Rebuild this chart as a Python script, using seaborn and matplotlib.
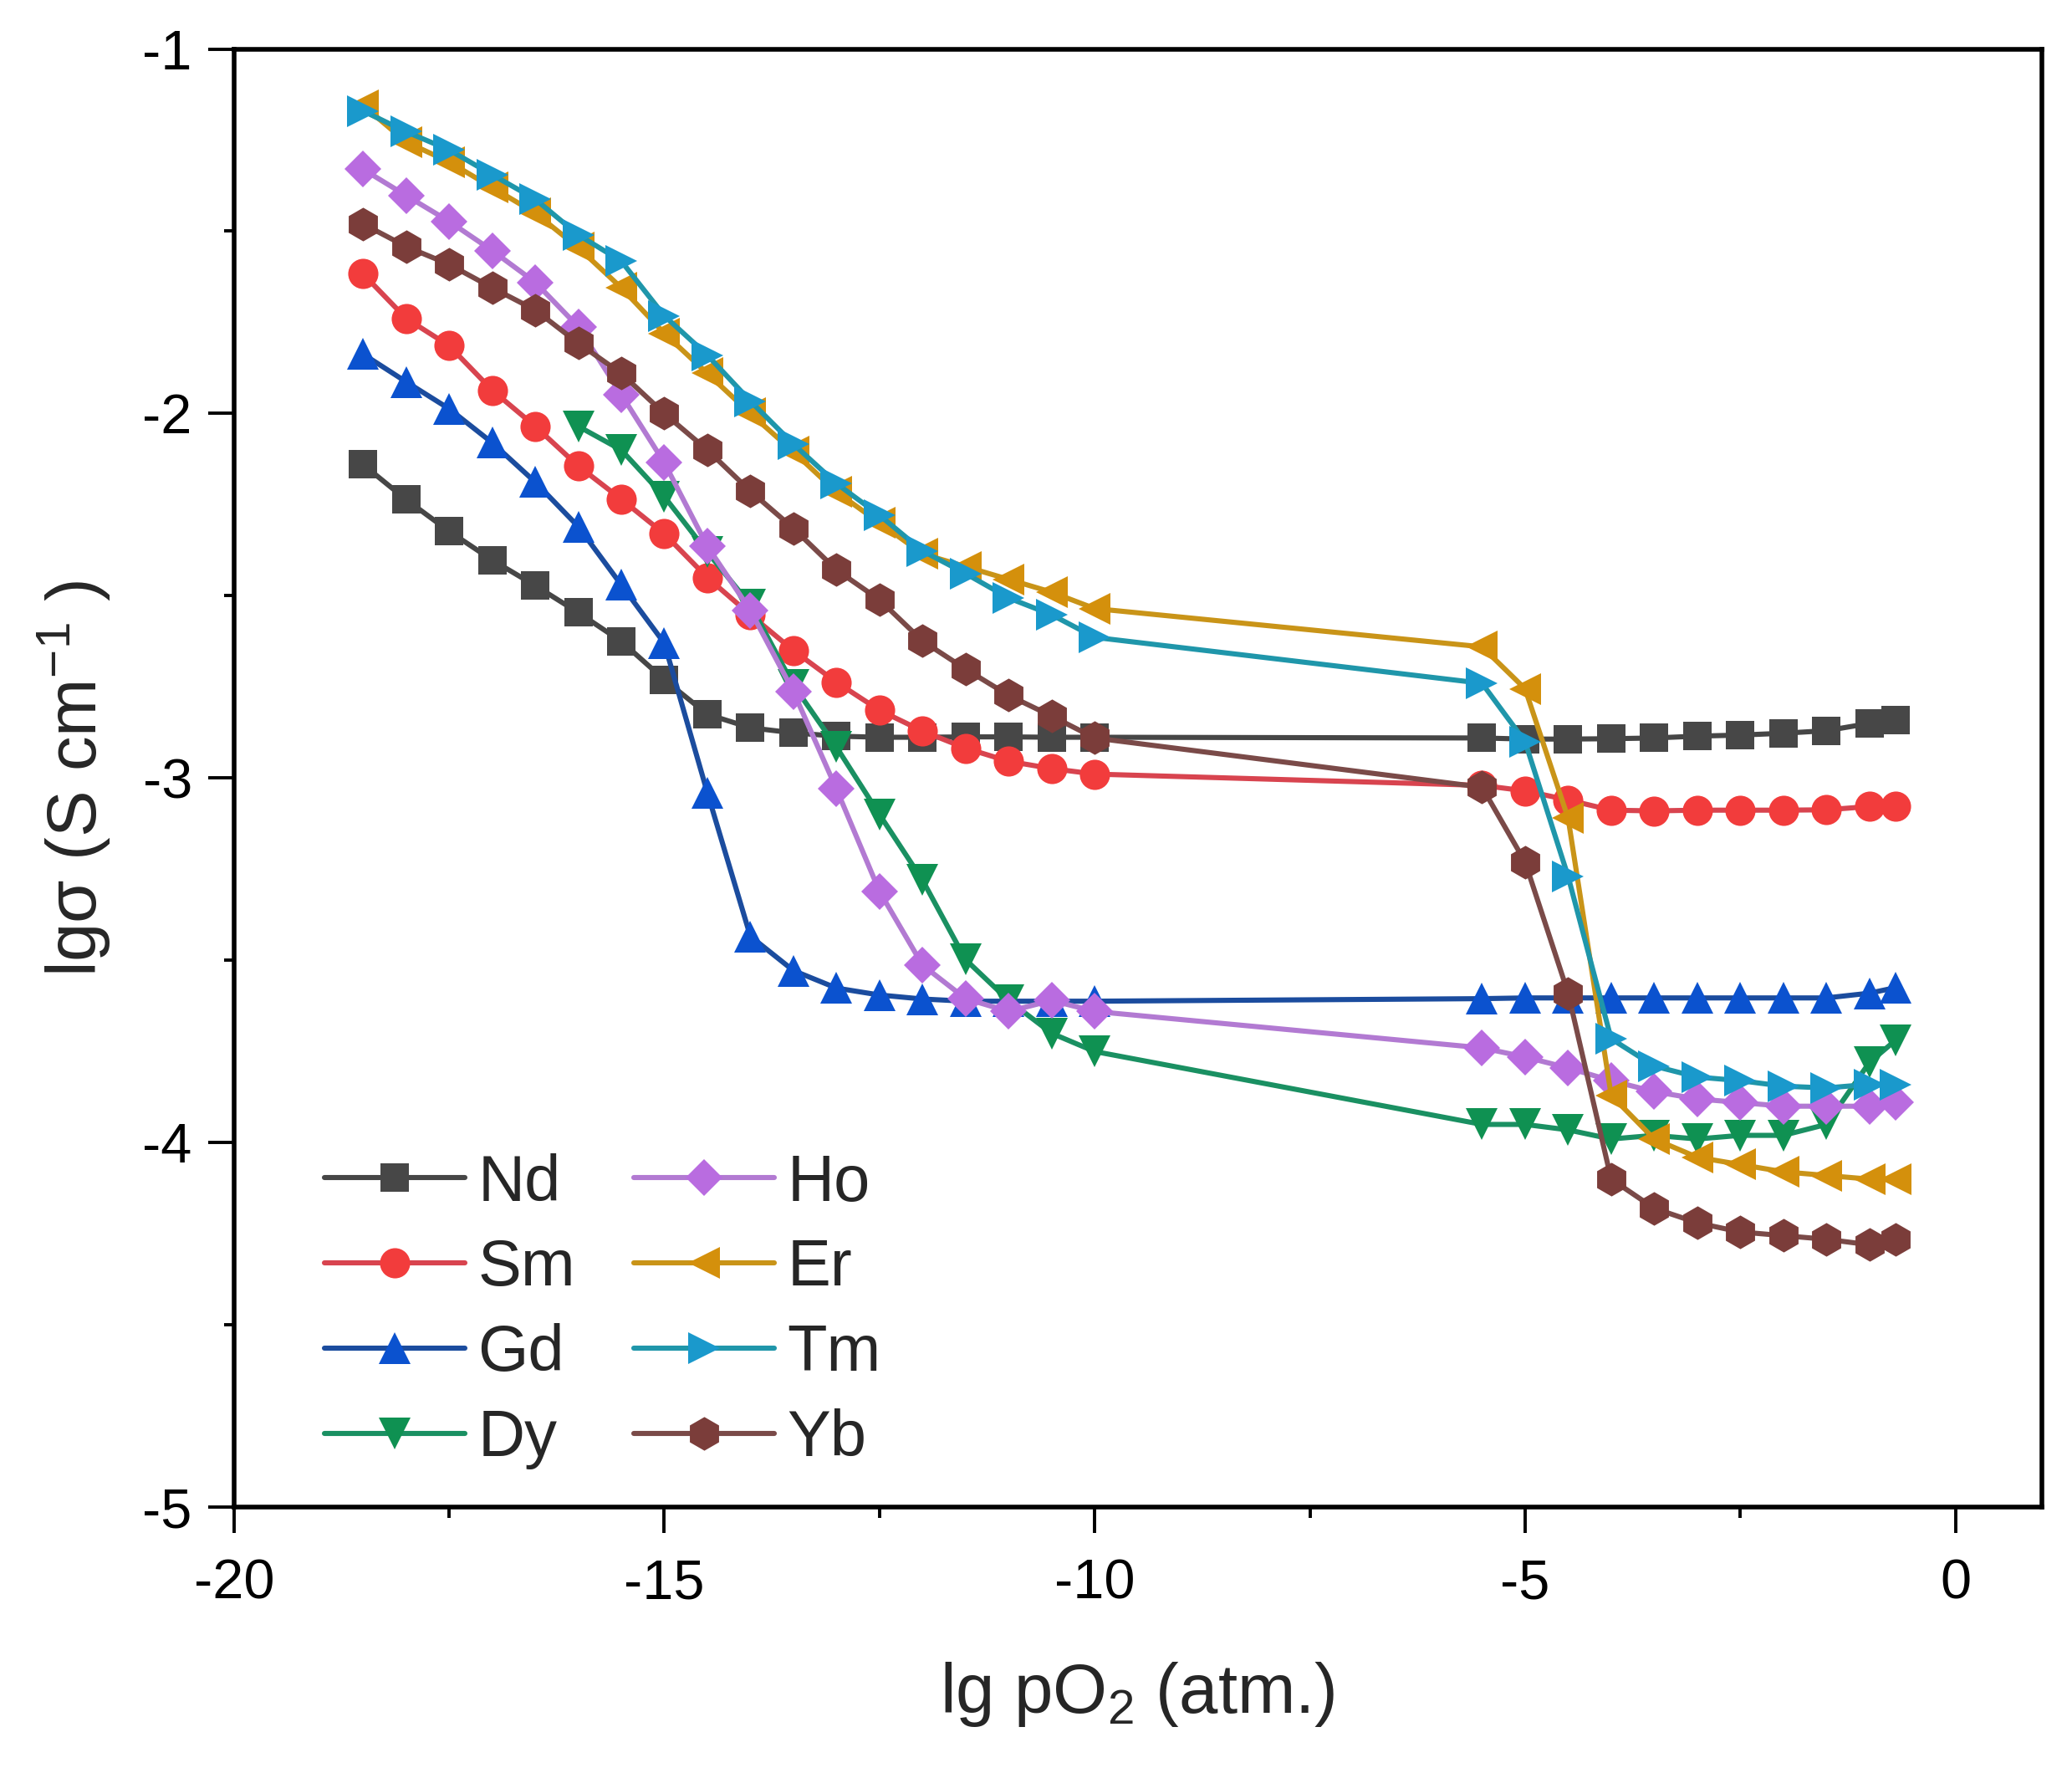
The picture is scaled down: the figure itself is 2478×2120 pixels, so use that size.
import matplotlib
matplotlib.use("Agg")
import matplotlib.pyplot as plt
import pandas as pd
import seaborn as sns
from matplotlib.ticker import MultipleLocator

# ---------------- data ----------------
elements = ["Nd", "Sm", "Gd", "Dy", "Ho", "Er", "Tm", "Yb"]

x_low = [-18.5, -18.0, -17.5, -17.0, -16.5, -16.0, -15.5, -15.0, -14.5,
         -14.0, -13.5, -13.0, -12.5, -12.0, -11.5, -11.0, -10.5, -10.0]
x_low_dy = [-16.0, -15.5, -15.0, -14.5, -14.0, -13.5, -13.0, -12.5, -12.0,
            -11.5, -11.0, -10.5, -10.0]
x_high = [-5.5, -5.0, -4.5, -4.0, -3.5, -3.0, -2.5, -2.0, -1.5, -1.0, -0.7]

nd_low = [-2.14, -2.236, -2.323, -2.402, -2.472, -2.546, -2.625, -2.73, -2.825,
          -2.862, -2.876, -2.885, -2.888, -2.888, -2.887, -2.887, -2.888, -2.888]
nd_high = [-2.89, -2.893, -2.893, -2.892, -2.89, -2.885, -2.882, -2.877, -2.87, -2.85, -2.84]

sm_low = [-1.617, -1.739, -1.814, -1.936, -2.035, -2.144, -2.235, -2.33, -2.45,
          -2.552, -2.65, -2.737, -2.814, -2.871, -2.918, -2.954, -2.974, -2.989]
sm_high = [-3.02, -3.035, -3.06, -3.088, -3.09, -3.088, -3.088, -3.088, -3.087, -3.078, -3.078]

gd_low = [-1.837, -1.913, -1.987, -2.08, -2.188, -2.31, -2.47, -2.63, -3.04,
          -3.434, -3.528, -3.576, -3.595, -3.606, -3.612, -3.612, -3.612, -3.612]
gd_high = [-3.605, -3.603, -3.603, -3.603, -3.603, -3.603, -3.603, -3.603, -3.603, -3.59, -3.575]

dy_low = [-2.035, -2.10, -2.228, -2.38, -2.525, -2.745, -2.915, -3.10, -3.28,
          -3.498, -3.61, -3.70, -3.75]
dy_high = [-3.95, -3.95, -3.965, -3.99, -3.98, -3.99, -3.98, -3.98, -3.95, -3.78, -3.72]

ho_low = [-1.33, -1.402, -1.473, -1.553, -1.64, -1.762, -1.948, -2.135, -2.364,
          -2.54, -2.763, -3.03, -3.311, -3.513, -3.605, -3.64, -3.61, -3.64]
ho_high = [-3.74, -3.765, -3.795, -3.83, -3.86, -3.88, -3.89, -3.90, -3.90, -3.90, -3.89]

er_low = [-1.155, -1.255, -1.31, -1.38, -1.45, -1.545, -1.655, -1.78, -1.89,
          -2.0, -2.105, -2.215, -2.30, -2.385, -2.42, -2.455, -2.49, -2.535]
er_high = [-2.64, -2.755, -3.11, -3.87, -3.99, -4.04, -4.06, -4.08, -4.09, -4.10, -4.10]

tm_low = [-1.17, -1.227, -1.277, -1.345, -1.412, -1.51, -1.582, -1.732, -1.84,
          -1.966, -2.084, -2.192, -2.279, -2.377, -2.439, -2.506, -2.552, -2.614]
tm_high = [-2.74, -2.90, -3.27, -3.715, -3.79, -3.82, -3.83, -3.845, -3.85, -3.84, -3.84]

yb_low = [-1.48, -1.542, -1.591, -1.655, -1.716, -1.807, -1.89, -2.0, -2.10,
          -2.213, -2.315, -2.429, -2.511, -2.624, -2.701, -2.773, -2.83, -2.89]
yb_high = [-3.025, -3.23, -3.59, -4.10, -4.18, -4.22, -4.245, -4.255, -4.265, -4.28, -4.265]

series_x = {
    "Nd": x_low + x_high, "Sm": x_low + x_high, "Gd": x_low + x_high,
    "Dy": x_low_dy + x_high, "Ho": x_low + x_high, "Er": x_low + x_high,
    "Tm": x_low + x_high, "Yb": x_low + x_high,
}
series_y = {
    "Nd": nd_low + nd_high, "Sm": sm_low + sm_high, "Gd": gd_low + gd_high,
    "Dy": dy_low + dy_high, "Ho": ho_low + ho_high, "Er": er_low + er_high,
    "Tm": tm_low + tm_high, "Yb": yb_low + yb_high,
}

x_ticks = [-20, -15, -10, -5, 0]
y_ticks = [-1, -2, -3, -4, -5]

# ---------------- styles ----------------
line_colors = {"Nd": "#464646", "Sm": "#d8444f", "Gd": "#1b4c9e", "Dy": "#1a9062",
               "Ho": "#b27ad2", "Er": "#c99418", "Tm": "#1f96aa", "Yb": "#7a4a48"}
marker_colors = {"Nd": "#474747", "Sm": "#f23c3c", "Gd": "#0b52cf", "Dy": "#0f9152",
                 "Ho": "#b96ce0", "Er": "#d4900c", "Tm": "#1a99cc", "Yb": "#7b3d3a"}
markers = {"Nd": "s", "Sm": "o", "Gd": "^", "Dy": "v", "Ho": "D", "Er": "<", "Tm": ">", "Yb": "h"}
msizes = {"Nd": 12, "Sm": 13, "Gd": 14, "Dy": 14, "Ho": 11, "Er": 14, "Tm": 14, "Yb": 14.5}

sns.set_style("ticks")
plt.rcParams["font.family"] = ["Liberation Sans", "DejaVu Sans"]
plt.rcParams["mathtext.fontset"] = "custom"
plt.rcParams["mathtext.rm"] = "Liberation Sans"
plt.rcParams["mathtext.it"] = "Liberation Sans:italic"
plt.rcParams["mathtext.default"] = "regular"
plt.rcParams["axes.unicode_minus"] = False

fig = plt.figure(figsize=(12.39, 10.6), dpi=200)
ax = fig.add_axes([0.1129, 0.1499, 0.8724, 0.8225])

for el in elements:
    df = pd.DataFrame({"x": series_x[el], "y": series_y[el]})
    sns.lineplot(data=df, x="x", y="y", ax=ax, sort=False, estimator=None,
                 errorbar=None, color=line_colors[el], linewidth=2.2,
                 marker=markers[el], markersize=msizes[el],
                 markerfacecolor=marker_colors[el], markeredgecolor=marker_colors[el],
                 markeredgewidth=0, label=el, legend=False)

ax.set_xlim(-20, 1.0)
ax.set_ylim(-5, -1)
ax.set_xticks(x_ticks)
ax.set_yticks(y_ticks)
ax.xaxis.set_minor_locator(MultipleLocator(2.5))
ax.yaxis.set_minor_locator(MultipleLocator(0.5))
ax.tick_params(axis="both", which="major", direction="out", length=11, width=1.4,
               labelsize=24, color="black", labelcolor="black")
ax.tick_params(axis="x", which="major", pad=11)
ax.tick_params(axis="y", which="major", pad=7)
ax.tick_params(axis="both", which="minor", direction="out", length=4.5, width=1.4,
               color="black")
ax.tick_params(top=False, right=False, which="both")
for sp in ax.spines.values():
    sp.set_linewidth(2.0)
    sp.set_color("black")

ax.set_xlabel("lg pO$_2$ (atm.)", fontsize=30)
ax.set_ylabel("lgσ (S cm$^{-1}$ )", fontsize=30)
ax.xaxis.set_label_coords(0.5, -0.105)
ax.yaxis.set_label_coords(-0.067, 0.5)

leg = ax.legend(ncol=2, loc="lower left", bbox_to_anchor=(0.05, 0.026),
                frameon=False, fontsize=28, handlelength=2.16, handletextpad=0.2,
                columnspacing=0.9, labelspacing=0.37, borderpad=0, borderaxespad=0,
                numpoints=1)

fig.savefig("out.png", dpi=200, facecolor="white")
